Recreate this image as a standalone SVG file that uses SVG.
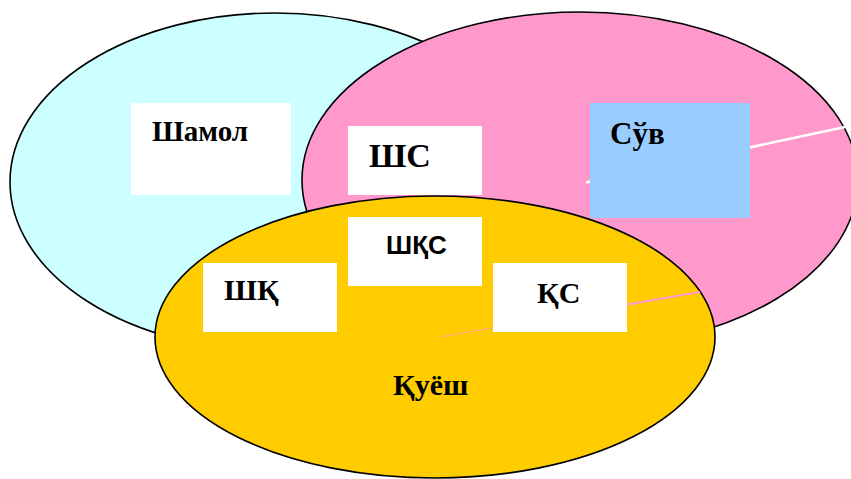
<svg xmlns="http://www.w3.org/2000/svg" width="851" height="479" viewBox="0 0 851 479">
<style>
.el{stroke:#000;stroke-width:1.6}
.box{fill:#fff}
.t{font-family:"Liberation Serif","Times New Roman",serif;font-weight:bold;fill:#000}
.s{font-family:"Liberation Sans",Arial,sans-serif;font-weight:bold;fill:#000}
</style>
<rect width="851" height="479" fill="#fff"/>
<g id="shamol">
<ellipse class="el" cx="275" cy="182" rx="265" ry="169" fill="#CCFFFF"/>
</g>
<g id="suv">
<ellipse class="el" cx="580" cy="180" rx="278" ry="168" fill="#FF99CC"/>
</g>
<g id="quyosh">
<ellipse class="el" cx="435" cy="337" rx="280" ry="141" fill="#FFCC00"/>
</g>
<g id="connectors">
<line x1="586" y1="182.5" x2="845" y2="127" stroke="#fff" stroke-width="2.5"/>
<line x1="440" y1="337" x2="500" y2="326.6" stroke="#FF99CC" stroke-width="1" opacity="0.7"/>
<line x1="620" y1="305.8" x2="700" y2="292" stroke="#FF99CC" stroke-width="2"/>
</g>
<g id="n-shamol">
<rect class="box" x="131" y="103" width="160" height="92"/>
<text class="t" x="152" y="141" font-size="29">Шамол</text>
</g>
<g id="n-sh-s">
<rect class="box" x="348" y="126" width="134" height="69"/>
<text class="t" x="369" y="167" font-size="34">ШС</text>
</g>
<g id="n-suv">
<rect x="590" y="103" width="160" height="115" fill="#99CCFF"/>
<text class="t" x="610" y="144" font-size="31">Сўв</text>
</g>
<g id="n-shqs">
<rect class="box" x="348" y="217" width="134" height="69"/>
<text class="s" x="386" y="254" font-size="26">ШҚС</text>
</g>
<g id="n-shq">
<rect class="box" x="203" y="263" width="134" height="69"/>
<text class="t" x="224" y="300" font-size="30">ШҚ</text>
</g>
<g id="n-qs">
<rect class="box" x="493" y="263" width="134" height="69"/>
<text class="t" x="537" y="303" font-size="30">ҚС</text>
</g>
<g id="n-quyosh">
<text class="t" x="393" y="395" font-size="30">Қуёш</text>
</g>
</svg>
